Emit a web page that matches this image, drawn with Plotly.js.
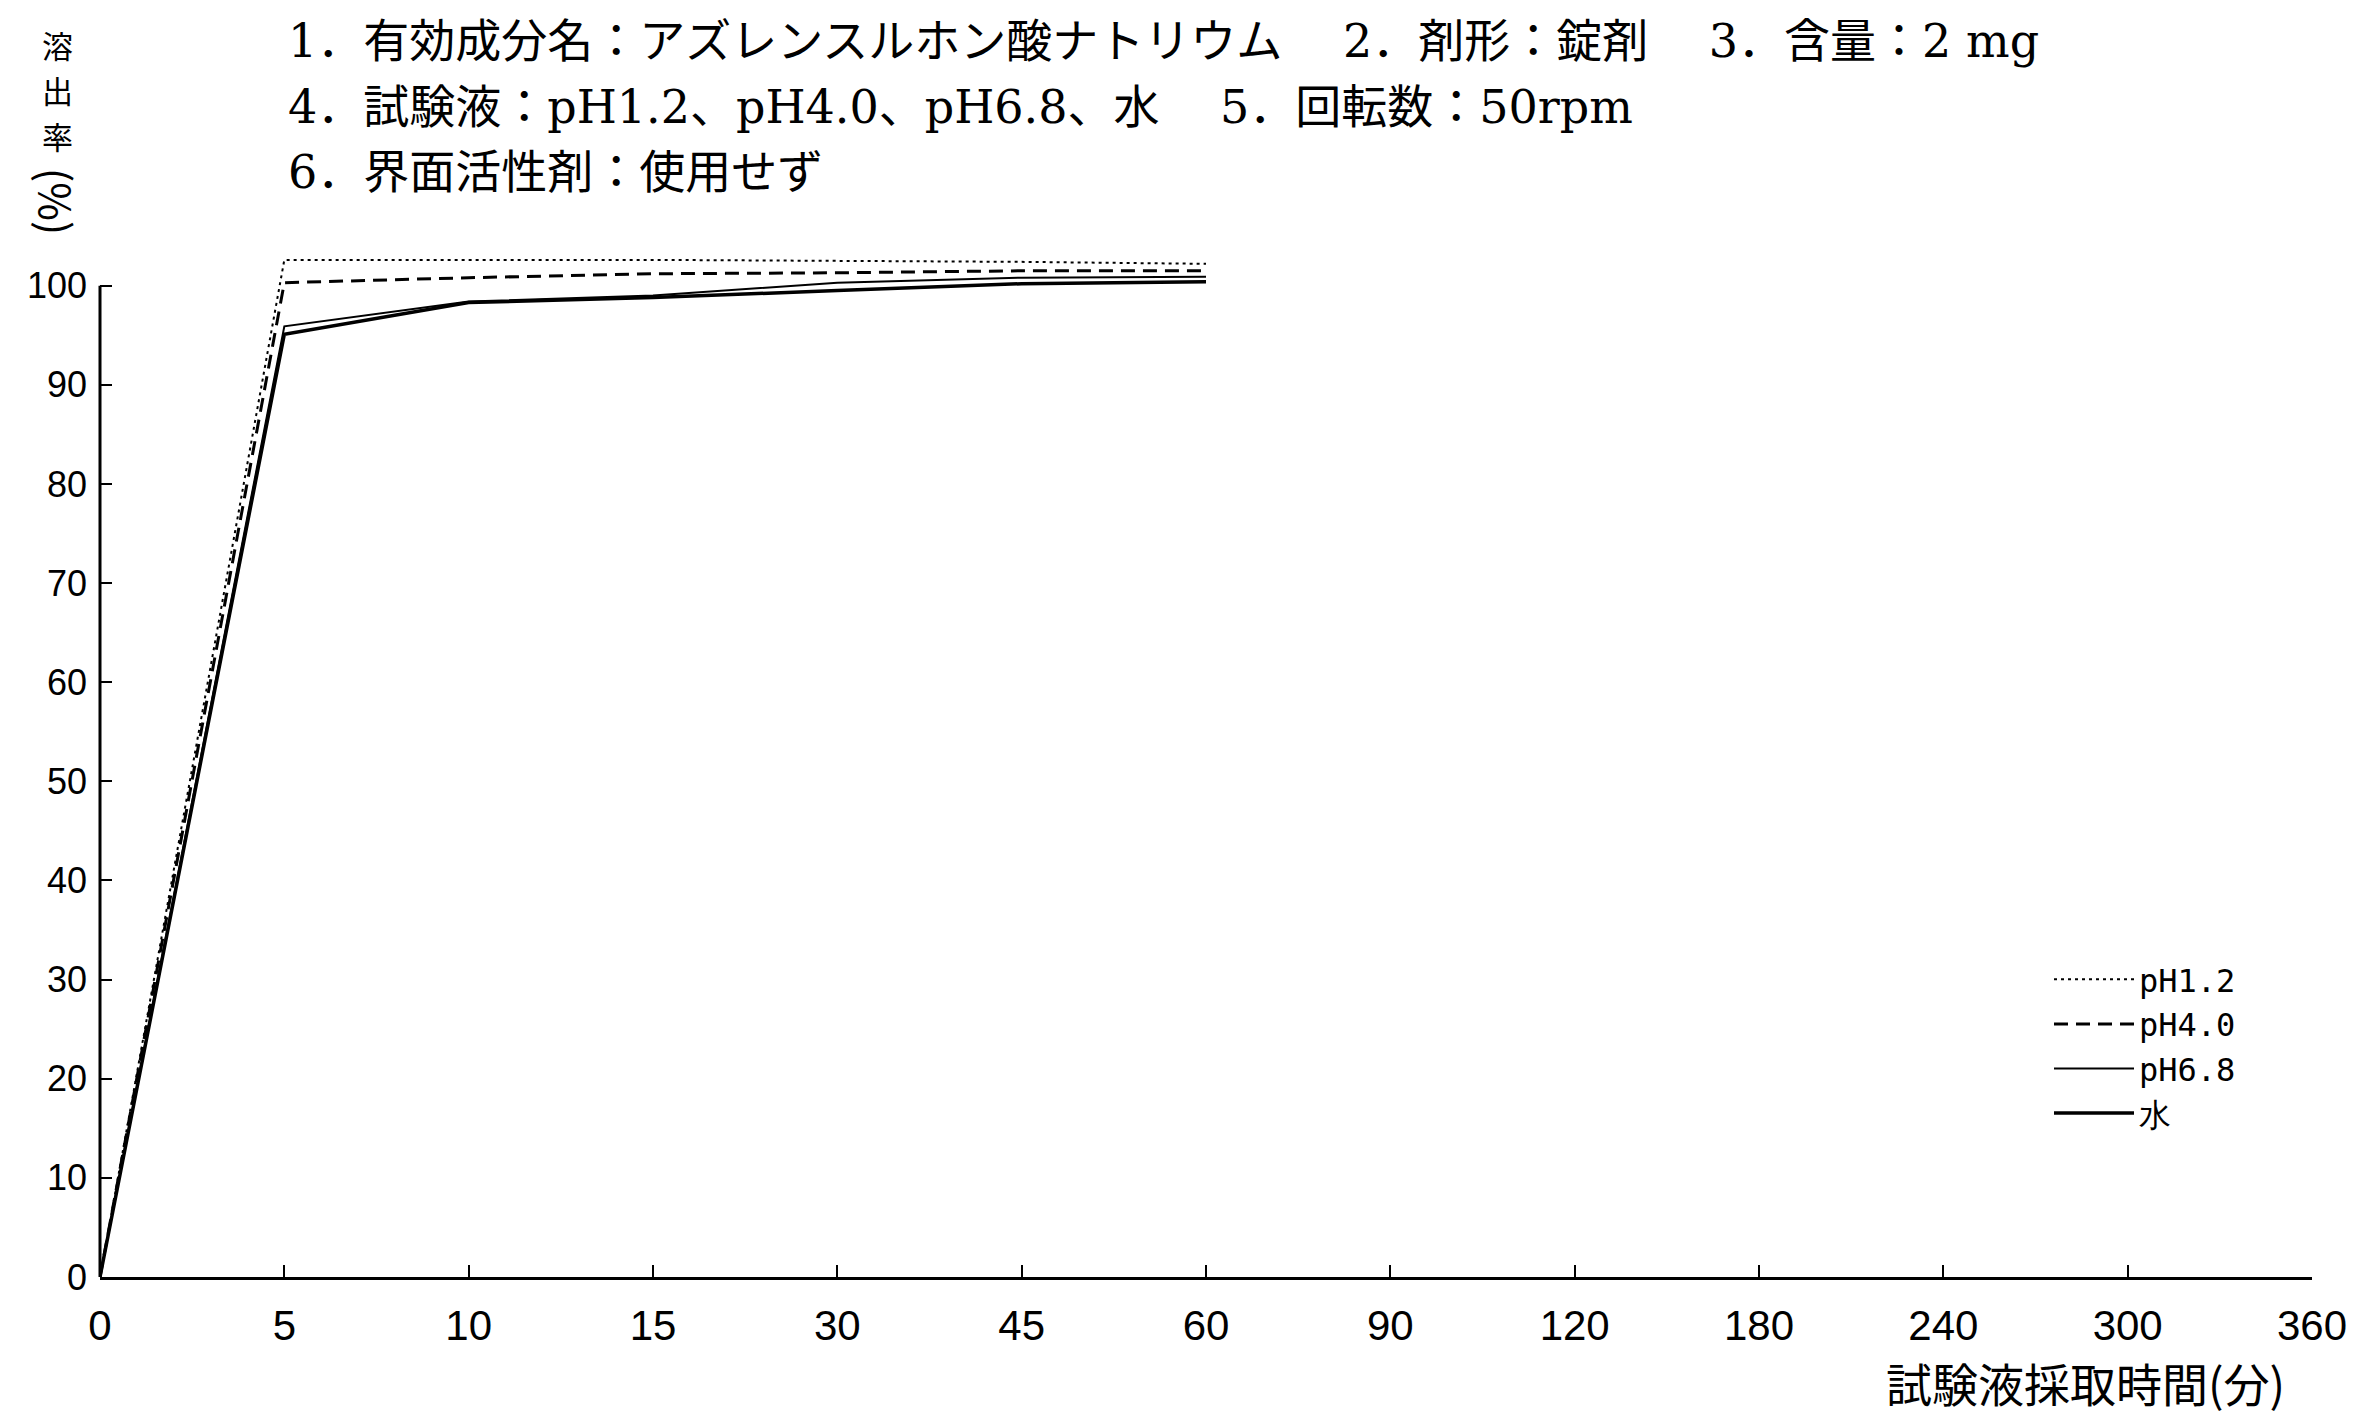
<!DOCTYPE html>
<html>
<head>
<meta charset="utf-8">
<script src="https://cdn.plot.ly/plotly-3.0.1.min.js"></script>
<style>html,body{margin:0;padding:0;background:#fff;}#chart{width:2362px;height:1417px;}</style>
</head>
<body>
<div id="chart"></div>
<script>
// ---- data ----
const categories = ['0','5','10','15','30','45','60','90','120','180','240','300','360'];
const sampleTimes = ['0','5','10','15','30','45','60'];
const pH12 = [0, 102.6, 102.6, 102.6, 102.5, 102.4, 102.2];
const pH40 = [0, 100.3, 100.8, 101.2, 101.3, 101.5, 101.5];
const pH68 = [0, 95.9, 98.4, 99.0, 100.3, 100.8, 100.9];
const water = [0, 95.1, 98.3, 98.8, 99.5, 100.2, 100.4];
const seriesNames = ['pH1.2', 'pH4.0', 'pH6.8', '水'];
const yTicks = [0, 10, 20, 30, 40, 50, 60, 70, 80, 90, 100];
const titleLines = [
  '1．有効成分名：アズレンスルホン酸ナトリウム　 2．剤形：錠剤　 3．含量：2 mg',
  '4．試験液：pH1.2、pH4.0、pH6.8、水　 5．回転数：50rpm',
  '6．界面活性剤：使用せず'
];
const yTitleChars = ['溶', '出', '率'];
const yTitleUnit = '(%)';
const xTitle = '試験液採取時間(分)';

// ---- layout geometry ----
const W = 2362, H = 1417;
const M = {l: 100, r: 50, t: 246, b: 140};
const PW = W - M.l - M.r, PH = H - M.t - M.b;
const px = x => (x - M.l) / PW;
const py = y => (H - M.b - y) / PH;

const serifCJK = '"DejaVu Serif", "Noto Sans CJK JP", serif';
const sansCJK = '"Noto Sans CJK JP", sans-serif';

const traces = [
  {name: seriesNames[0], y: pH12, line: {color: '#000', width: 2, dash: '3px,4px'}},
  {name: seriesNames[1], y: pH40, line: {color: '#000', width: 3, dash: '14px,8px'}},
  {name: seriesNames[2], y: pH68, line: {color: '#000', width: 2}},
  {name: seriesNames[3], y: water, line: {color: '#000', width: 3.5}}
].map(t => Object.assign({x: sampleTimes, type: 'scatter', mode: 'lines'}, t));

const annotations = [];
titleLines.forEach((t, i) => {
  annotations.push({
    text: t, xref: 'paper', yref: 'paper', x: px(286), y: py([41, 107, 172][i]),
    xanchor: 'left', yanchor: 'middle', showarrow: false,
    font: {family: serifCJK, size: 46, color: '#000'}
  });
});
yTitleChars.forEach((c, i) => {
  annotations.push({
    text: c, xref: 'paper', yref: 'paper', x: px(57), y: py(44 + i * 45.5),
    xanchor: 'center', yanchor: 'middle', showarrow: false,
    font: {family: sansCJK, size: 31, color: '#000'}
  });
});
annotations.push({
  text: yTitleUnit, xref: 'paper', yref: 'paper', x: px(57), y: py(201),
  xanchor: 'center', yanchor: 'middle', showarrow: false, textangle: 90,
  font: {family: sansCJK, size: 42, color: '#000'}
});
annotations.push({
  text: xTitle, xref: 'paper', yref: 'paper', x: px(2085), y: py(1382),
  xanchor: 'center', yanchor: 'middle', showarrow: false,
  font: {family: sansCJK, size: 46, color: '#000'}
});

const layout = {
  width: W, height: H,
  margin: M,
  paper_bgcolor: '#fff', plot_bgcolor: '#fff',
  showlegend: true,
  legend: {
    x: px(2049), y: py(952), xanchor: 'left', yanchor: 'top',
    bgcolor: 'rgba(0,0,0,0)', borderwidth: 0,
    font: {family: '"DejaVu Sans Mono", monospace', size: 32, color: '#000'},
    itemwidth: 80, tracegroupgap: 0
  },
  xaxis: {
    type: 'category', categoryorder: 'array', categoryarray: categories,
    range: [0, categories.length - 1],
    showline: true, linecolor: '#000', linewidth: 3,
    ticks: 'inside', ticklen: 12, tickwidth: 2, tickcolor: '#000',
    showgrid: false, zeroline: false,
    tickfont: {family: '"Liberation Sans Narrow", "Liberation Sans", sans-serif', size: 42, color: '#000'},
    ticklabelstandoff: 10
  },
  yaxis: {
    range: [0, 104],
    tickmode: 'array', tickvals: yTicks, ticktext: yTicks.map(String),
    showline: false,
    ticks: 'inside', ticklen: 12, tickwidth: 2, tickcolor: '#000',
    showgrid: false, zeroline: false,
    tickfont: {family: '"Liberation Sans", sans-serif', size: 36, color: '#000'},
    ticklabelstandoff: 12
  },
  shapes: [{
    type: 'line', xref: 'paper', yref: 'y', x0: 0, x1: 0, y0: 0, y1: yTicks[yTicks.length - 1],
    line: {color: '#000', width: 3}
  }],
  annotations: annotations
};

Plotly.newPlot('chart', traces, layout, {displayModeBar: false, staticPlot: true});
</script>
</body>
</html>
